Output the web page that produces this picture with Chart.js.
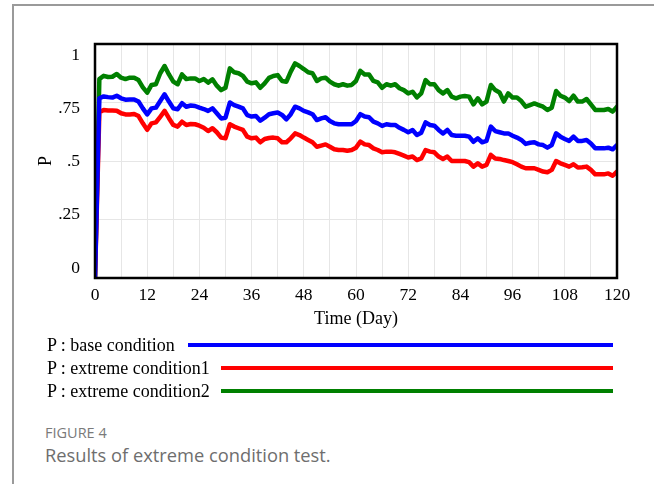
<!DOCTYPE html>
<html>
<head>
<meta charset="utf-8">
<script src="https://cdn.jsdelivr.net/npm/chart.js@4"></script>
<style>
  html, body { margin: 0; padding: 0; background: #fff; }
  body { width: 654px; height: 484px; position: relative; overflow: hidden; }
  #frameTop { position: absolute; left: 12px; top: 4px; width: 642px; height: 2px; background: #9a9a9a; }
  #frameLeft { position: absolute; left: 12px; top: 4px; width: 2px; height: 480px; background: #9a9a9a; }
  #c { position: absolute; left: 0; top: 0; }
  .lg { position: absolute; left: 47px; font-family: "Liberation Serif", "Times New Roman", serif; font-size: 18px; color: #000; line-height: 20px; white-space: nowrap; }
  .ln { position: absolute; height: 4px; }
  #fig { position: absolute; left: 45px; top: 424px; font-family: "Open Sans", "Noto Sans", sans-serif; font-size: 14.5px; color: #7a7a7a; line-height: 18px; }
  #cap { position: absolute; left: 45px; top: 443px; font-family: "Open Sans", "Noto Sans", sans-serif; font-size: 18.3px; color: #6e6e6e; line-height: 24px; }
</style>
</head>
<body>
<div id="frameTop"></div>
<div id="frameLeft"></div>
<canvas id="c" width="654" height="340"></canvas>
<div id="legend"></div>
<div id="fig">FIGURE 4</div>
<div id="cap">Results of extreme condition test.</div>
<script>
// ---- data ----
const seriesNames = ["P : base condition", "P : extreme condition1", "P : extreme condition2"];
const seriesColors = ["#0000ff", "#ff0000", "#008000"];
const yTickValues = [0, 0.25, 0.5, 0.75, 1];
const yTickLabels = ["0", ".25", ".5", ".75", "1"];
const xTickLabels = ["0", "12", "24", "36", "48", "60", "72", "84", "96", "108", "120"];
const xTitle = "Time (Day)";
const yTitle = "P";

const baseCondition = [
  0, 0.768, 0.776, 0.773, 0.771, 0.779, 0.768, 0.762, 0.763, 0.763, 0.754,
  0.725, 0.699, 0.725, 0.728, 0.756, 0.785, 0.754, 0.725, 0.721, 0.747,
  0.732, 0.737, 0.735, 0.728, 0.722, 0.714, 0.725, 0.704, 0.682, 0.685,
  0.750, 0.739, 0.732, 0.725, 0.696, 0.690, 0.692, 0.672, 0.685, 0.700,
  0.704, 0.707, 0.697, 0.678, 0.700, 0.732, 0.725, 0.714, 0.708, 0.700,
  0.675, 0.682, 0.687, 0.671, 0.661, 0.657, 0.657, 0.657, 0.657, 0.671,
  0.700, 0.690, 0.687, 0.668, 0.661, 0.650, 0.657, 0.654, 0.654, 0.642,
  0.633, 0.623, 0.632, 0.611, 0.621, 0.665, 0.654, 0.651, 0.633, 0.618,
  0.633, 0.611, 0.608, 0.608, 0.608, 0.604, 0.582, 0.597, 0.580, 0.586,
  0.647, 0.628, 0.623, 0.618, 0.618, 0.608, 0.600, 0.590, 0.573, 0.578,
  0.580, 0.571, 0.568, 0.557, 0.568, 0.618, 0.604, 0.594, 0.586, 0.604,
  0.586, 0.586, 0.590, 0.575, 0.554, 0.554, 0.554, 0.557, 0.550, 0.568
];
const extremeCondition1 = [
  0, 0.708, 0.718, 0.716, 0.716, 0.715, 0.704, 0.699, 0.699, 0.701, 0.692,
  0.661, 0.633, 0.661, 0.665, 0.689, 0.714, 0.683, 0.654, 0.647, 0.668,
  0.654, 0.658, 0.657, 0.651, 0.642, 0.628, 0.640, 0.623, 0.600, 0.597,
  0.657, 0.647, 0.640, 0.633, 0.604, 0.597, 0.600, 0.580, 0.594, 0.598,
  0.600, 0.597, 0.580, 0.580, 0.597, 0.618, 0.611, 0.600, 0.590, 0.580,
  0.561, 0.566, 0.571, 0.561, 0.550, 0.547, 0.547, 0.544, 0.547, 0.557,
  0.583, 0.571, 0.568, 0.554, 0.547, 0.537, 0.540, 0.540, 0.537, 0.530,
  0.523, 0.515, 0.519, 0.504, 0.511, 0.547, 0.540, 0.537, 0.519, 0.509,
  0.519, 0.500, 0.500, 0.500, 0.500, 0.495, 0.476, 0.490, 0.476, 0.483,
  0.526, 0.511, 0.509, 0.504, 0.500, 0.495, 0.486, 0.476, 0.469, 0.469,
  0.469, 0.462, 0.455, 0.452, 0.462, 0.500, 0.490, 0.483, 0.476, 0.486,
  0.472, 0.473, 0.476, 0.462, 0.443, 0.443, 0.443, 0.447, 0.437, 0.455
];
const extremeCondition2 = [
  0, 0.850, 0.864, 0.859, 0.860, 0.872, 0.856, 0.850, 0.856, 0.856, 0.846,
  0.815, 0.792, 0.825, 0.828, 0.875, 0.906, 0.870, 0.839, 0.828, 0.870,
  0.850, 0.853, 0.853, 0.842, 0.850, 0.835, 0.849, 0.822, 0.803, 0.813,
  0.896, 0.879, 0.875, 0.864, 0.839, 0.832, 0.836, 0.813, 0.832, 0.855,
  0.863, 0.867, 0.842, 0.839, 0.882, 0.917, 0.906, 0.893, 0.879, 0.875,
  0.842, 0.853, 0.856, 0.839, 0.828, 0.822, 0.828, 0.822, 0.825, 0.842,
  0.885, 0.870, 0.870, 0.842, 0.836, 0.813, 0.828, 0.822, 0.828, 0.811,
  0.803, 0.789, 0.796, 0.772, 0.789, 0.846, 0.828, 0.828, 0.803, 0.789,
  0.803, 0.775, 0.768, 0.775, 0.778, 0.775, 0.742, 0.768, 0.742, 0.754,
  0.825, 0.803, 0.793, 0.754, 0.789, 0.771, 0.771, 0.756, 0.732, 0.739,
  0.746, 0.739, 0.732, 0.718, 0.728, 0.799, 0.779, 0.771, 0.756, 0.779,
  0.754, 0.754, 0.765, 0.742, 0.718, 0.718, 0.718, 0.722, 0.711, 0.732
];
const days = baseCondition.map((_, i) => i);
const allSeries = [baseCondition, extremeCondition1, extremeCondition2];

// ---- HTML legend ----
const legendLayout = [
  { top: 335, lineLeft: 188 },
  { top: 358, lineLeft: 221 },
  { top: 381, lineLeft: 221 }
];
const legendEl = document.getElementById('legend');
seriesNames.forEach((name, i) => {
  const t = document.createElement('div');
  t.className = 'lg';
  t.style.top = legendLayout[i].top + 'px';
  t.textContent = name;
  legendEl.appendChild(t);
  const l = document.createElement('div');
  l.className = 'ln';
  l.style.left = legendLayout[i].lineLeft + 'px';
  l.style.width = (613 - legendLayout[i].lineLeft) + 'px';
  l.style.top = (legendLayout[i].top + 8) + 'px';
  l.style.background = seriesColors[i];
  legendEl.appendChild(l);
});

// ---- chart ----
const serif = '"Liberation Serif", "Times New Roman", serif';
const frame = {
  id: 'frame',
  afterDatasetsDraw(chart) {
    const a = chart.chartArea, ctx = chart.ctx;
    ctx.save();
    ctx.strokeStyle = '#000';
    ctx.lineWidth = 2.5;
    ctx.strokeRect(a.left, a.top, a.right - a.left, a.bottom - a.top);
    ctx.restore();
  }
};

new Chart(document.getElementById('c'), {
  type: 'line',
  data: {
    datasets: allSeries.map((s, i) => ({
      label: seriesNames[i],
      data: s.map((v, k) => ({ x: days[k], y: v })),
      borderColor: seriesColors[i],
      backgroundColor: seriesColors[i],
      borderWidth: 4.5,
      pointRadius: 0,
      tension: 0,
      borderJoinStyle: 'round',
      borderCapStyle: 'round',
      fill: false
    }))
  },
  options: {
    responsive: false,
    animation: false,
    devicePixelRatio: 1,
    layout: { padding: { top: 44, right: 37, left: 0, bottom: 0 } },
    plugins: { legend: { display: false }, tooltip: { enabled: false } },
    scales: {
      x: {
        type: 'linear', min: 0, max: 120,
        afterFit(s) { s.height = 62; },
        grid: { color: '#e6e6e6', lineWidth: 1, drawTicks: false },
        border: { display: false },
        ticks: {
          stepSize: 6, autoSkip: false, maxRotation: 0, padding: 7,
          color: '#000', font: { family: serif, size: 17.5 },
          callback: (v) => xTickLabels.includes(String(v)) ? String(v) : ''
        },
        title: { display: true, text: xTitle, color: '#000', font: { family: serif, size: 18 }, padding: { top: 0, bottom: 10 } }
      },
      y: {
        position: 'left', weight: 0, min: 0, max: 1,
        afterFit(s) { s.width = 0; },
        grid: { color: '#e6e6e6', lineWidth: 1, drawTicks: false },
        border: { display: false },
        ticks: { display: false, stepSize: 0.25 }
      },
      yl: {
        position: 'left', weight: 1, min: -10 / 213, max: 224 / 213,
        afterFit(s) { s.width = 95; },
        afterBuildTicks(s) { s.ticks = yTickValues.map(v => ({ value: v })); },
        grid: { display: false, drawTicks: false },
        border: { display: false },
        ticks: {
          padding: 15, color: '#000', font: { family: serif, size: 17.5 },
          callback: (v) => yTickLabels[yTickValues.indexOf(v)] ?? ''
        },
        title: { display: true, text: yTitle, color: '#000', font: { family: serif, size: 18 }, padding: { top: 35, bottom: 0 } }
      }
    }
  },
  plugins: [frame]
});
</script>
</body>
</html>
